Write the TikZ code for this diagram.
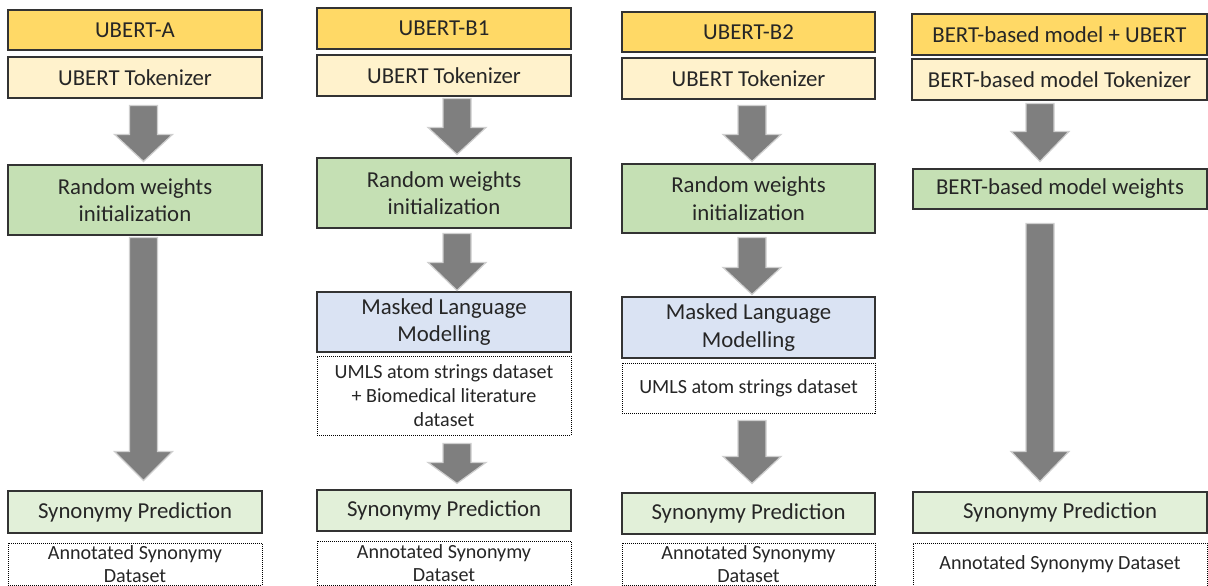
\documentclass[tikz,border=0pt]{standalone}
\usepackage{fontspec}
\setmainfont{Carlito}
\usetikzlibrary{calc}
\definecolor{yel}{HTML}{FFD966}
\definecolor{lyel}{HTML}{FFF2CC}
\definecolor{grn}{HTML}{C5E0B4}
\definecolor{lgrn}{HTML}{E2F0D9}
\definecolor{blu}{HTML}{DAE3F3}
\definecolor{boxline}{HTML}{333333}
\definecolor{txt}{HTML}{262626}
\definecolor{arrgray}{HTML}{7F7F7F}
\definecolor{arredge}{HTML}{CFCFCF}
\tikzset{
  bx/.style={draw=boxline, line width=1.1pt, fill=#1, inner sep=0pt, align=center,
    text=txt, font=\fontsize{22.8}{27.5}\selectfont},
  dbox/.style={draw=black, dash pattern=on 1pt off 1pt, line width=0.9pt, fill=white,
    inner sep=0pt, align=center, text=txt, font=\fontsize{20.1}{23.8}\selectfont},
  blk/.style={fill=arrgray, draw=arredge, line width=1.2pt, line join=miter},
}
% #1 from, #2 to, #3 signed x offset, #4 top gap, #5 tip gap, #6 head length
\newcommand\barr[6]{%
  \path[blk] let \p1=(#1.south), \p2=(#2.north) in
    (\x1#3pt-14pt,\y1-#4pt) -- (\x1#3pt+14pt,\y1-#4pt)
    -- (\x1#3pt+14pt,\y2+#5pt+#6pt) -- (\x1#3pt+29pt,\y2+#5pt+#6pt)
    -- (\x1#3pt,\y2+#5pt) -- (\x1#3pt-29pt,\y2+#5pt+#6pt)
    -- (\x1#3pt-14pt,\y2+#5pt+#6pt) -- cycle;}
\begin{document}
\begin{tikzpicture}[x=1pt,y=-1pt]
\useasboundingbox (0,0) rectangle (1208,586);
% column 1
\node[bx=yel,  minimum width=254pt, minimum height=40pt] (a1) at (135,30) {UBERT-A};
\node[bx=lyel, minimum width=254pt, minimum height=41pt] (a2) at (135,77.5) {UBERT Tokenizer};
\node[bx=grn,  minimum width=254pt, minimum height=70pt] (a3) at (135,200) {Random weights\\initialization};
\node[bx=lgrn, minimum width=254pt, minimum height=42pt] (a4) at (135,512) {Synonymy Prediction};
\node[dbox, minimum width=254pt, minimum height=42pt] (a5) at (135,564) {Annotated Synonymy\\Dataset};
\barr{a2}{a3}{+8.5}{7}{3}{27}
\barr{a3}{a4}{+8.5}{2}{10}{29}
% column 2
\node[bx=yel,  minimum width=254pt, minimum height=41pt] (b1) at (444,28.5) {UBERT-B1};
\node[bx=lyel, minimum width=254pt, minimum height=41pt] (b2) at (444,75.5) {UBERT Tokenizer};
\node[bx=grn,  minimum width=254pt, minimum height=70pt] (b3) at (444,193) {Random weights\\initialization};
\node[bx=blu,  minimum width=254pt, minimum height=60pt] (b4) at (444,322) {Masked Language\\Modelling};
\node[dbox, minimum width=254pt, minimum height=79pt] (b5) at (444,395.5) {UMLS atom strings dataset\\+ Biomedical literature\\dataset};
\node[bx=lgrn, minimum width=254pt, minimum height=41pt] (b6) at (444,510.5) {Synonymy Prediction};
\node[dbox, minimum width=254pt, minimum height=44pt] (b7) at (444,563) {Annotated Synonymy\\Dataset};
\barr{b2}{b3}{+13}{2}{3}{27}
\barr{b3}{b4}{+13}{5}{1}{28}
\barr{b5}{b6}{+13}{8}{6}{21}
% column 3
\node[bx=yel,  minimum width=253pt, minimum height=40pt] (c1) at (748.5,32) {UBERT-B2};
\node[bx=lyel, minimum width=253pt, minimum height=41pt] (c2) at (748.5,78.5) {UBERT Tokenizer};
\node[bx=grn,  minimum width=253pt, minimum height=69pt] (c3) at (748.5,198.5) {Random weights\\initialization};
\node[bx=blu,  minimum width=253pt, minimum height=61pt] (c4) at (748.5,327.5) {Masked Language\\Modelling};
\node[dbox, minimum width=253pt, minimum height=50pt] (c5) at (748.5,388) {UMLS atom strings dataset};
\node[bx=lgrn, minimum width=253pt, minimum height=41pt] (c6) at (748.5,513.5) {Synonymy Prediction};
\node[dbox, minimum width=253pt, minimum height=42pt] (c7) at (748.5,564) {Annotated Synonymy\\Dataset};
\barr{c2}{c3}{+3.5}{6}{2}{27}
\barr{c3}{c4}{+3.5}{4}{2}{27}
\barr{c5}{c6}{+3.5}{7}{9}{27}
% column 4
\node[bx=yel,  minimum width=295pt, minimum height=41pt] (d1) at (1059.5,34.5) {BERT-based model + UBERT};
\node[bx=lyel, minimum width=295pt, minimum height=41pt] (d2) at (1059.5,79.5) {BERT-based model Tokenizer};
\node[bx=grn,  minimum width=294pt, minimum height=40pt] (d3) at (1060,189) {BERT-based model weights};
\node[bx=lgrn, minimum width=294pt, minimum height=41pt] (d4) at (1060,512.5) {Synonymy Prediction};
\node[dbox, minimum width=294pt, minimum height=43pt] (d5) at (1060,564.5) {Annotated Synonymy Dataset};
\barr{d2}{d3}{-19.5}{3}{7}{30}
\barr{d3}{d4}{-20}{14}{10}{30}
\end{tikzpicture}
\end{document}
